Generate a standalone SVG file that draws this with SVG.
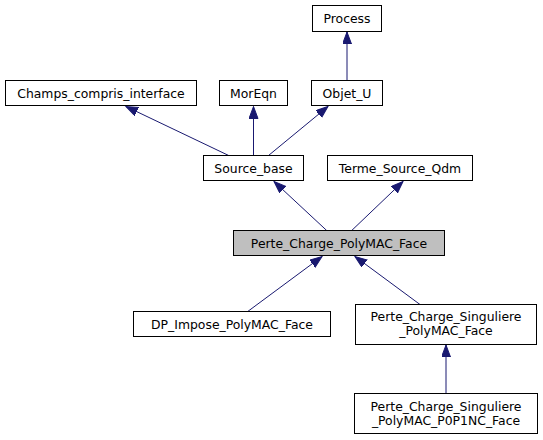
<svg xmlns="http://www.w3.org/2000/svg" width="543" height="440" viewBox="0 0 543 440">
<defs>
<style>
.node rect{fill:#ffffff;stroke:#000000;stroke-width:1}
.node.focus rect{fill:#bfbfbf}
.node text{font-family:"DejaVu Sans","Liberation Sans",sans-serif;font-size:12.4px;text-anchor:middle;fill:#000000}
.edges line{stroke:#191970;stroke-width:1;fill:none;marker-end:url(#arr)}
</style>
<marker id="arr" markerUnits="userSpaceOnUse" markerWidth="15" markerHeight="11" refX="12" refY="4.5" orient="auto">
<path d="M0,0 L12,4.5 L0,9 z" fill="#191970" stroke="#191970" stroke-width="1"/>
</marker>
</defs>
<rect x="0" y="0" width="543" height="440" fill="#ffffff"/>
<g class="edges" id="edges">
<line x1="228.7" y1="155.5" x2="126" y2="106.5"/>
<line x1="253.5" y1="155.5" x2="253.5" y2="106.5"/>
<line x1="268.5" y1="155.5" x2="328" y2="106.5"/>
<line x1="347" y1="80.5" x2="347" y2="32"/>
<line x1="326.7" y1="230.5" x2="274" y2="181.5"/>
<line x1="351.7" y1="230.5" x2="403" y2="181.5"/>
<line x1="247.7" y1="311.5" x2="322" y2="256.5"/>
<line x1="420" y1="304.5" x2="355" y2="256.5"/>
<line x1="446" y1="393.5" x2="446" y2="345"/>
</g>
<g class="node" id="Process"><rect x="312.5" y="5.5" width="69" height="26"/><text x="347" y="23">Process</text></g>
<g class="node" id="Champs_compris_interface"><rect x="5.5" y="80.5" width="191" height="25"/><text x="101" y="97.5">Champs_compris_interface</text></g>
<g class="node" id="MorEqn"><rect x="219.5" y="80.5" width="68" height="25"/><text x="253.5" y="97.5">MorEqn</text></g>
<g class="node" id="Objet_U"><rect x="311.5" y="80.5" width="71" height="25"/><text x="347" y="97.5">Objet_U</text></g>
<g class="node" id="Source_base"><rect x="203.5" y="155.5" width="100" height="25"/><text x="253.5" y="172.5">Source_base</text></g>
<g class="node" id="Terme_Source_Qdm"><rect x="327.5" y="155.5" width="145" height="25"/><text x="400" y="172.5">Terme_Source_Qdm</text></g>
<g class="node focus" id="Perte_Charge_PolyMAC_Face"><rect x="233.5" y="230.5" width="211" height="25"/><text x="339" y="247.5">Perte_Charge_PolyMAC_Face</text></g>
<g class="node" id="DP_Impose_PolyMAC_Face"><rect x="133.5" y="311.5" width="197" height="25"/><text x="232" y="328.5">DP_Impose_PolyMAC_Face</text></g>
<g class="node" id="Perte_Charge_Singuliere_PolyMAC_Face"><rect x="355.5" y="304.5" width="181" height="40"/><text x="446" y="321">Perte_Charge_Singuliere</text><text x="446" y="335">_PolyMAC_Face</text></g>
<g class="node" id="Perte_Charge_Singuliere_PolyMAC_P0P1NC_Face"><rect x="354.5" y="393.5" width="183" height="40"/><text x="446" y="410.5">Perte_Charge_Singuliere</text><text x="446" y="424.5">_PolyMAC_P0P1NC_Face</text></g>
</svg>
